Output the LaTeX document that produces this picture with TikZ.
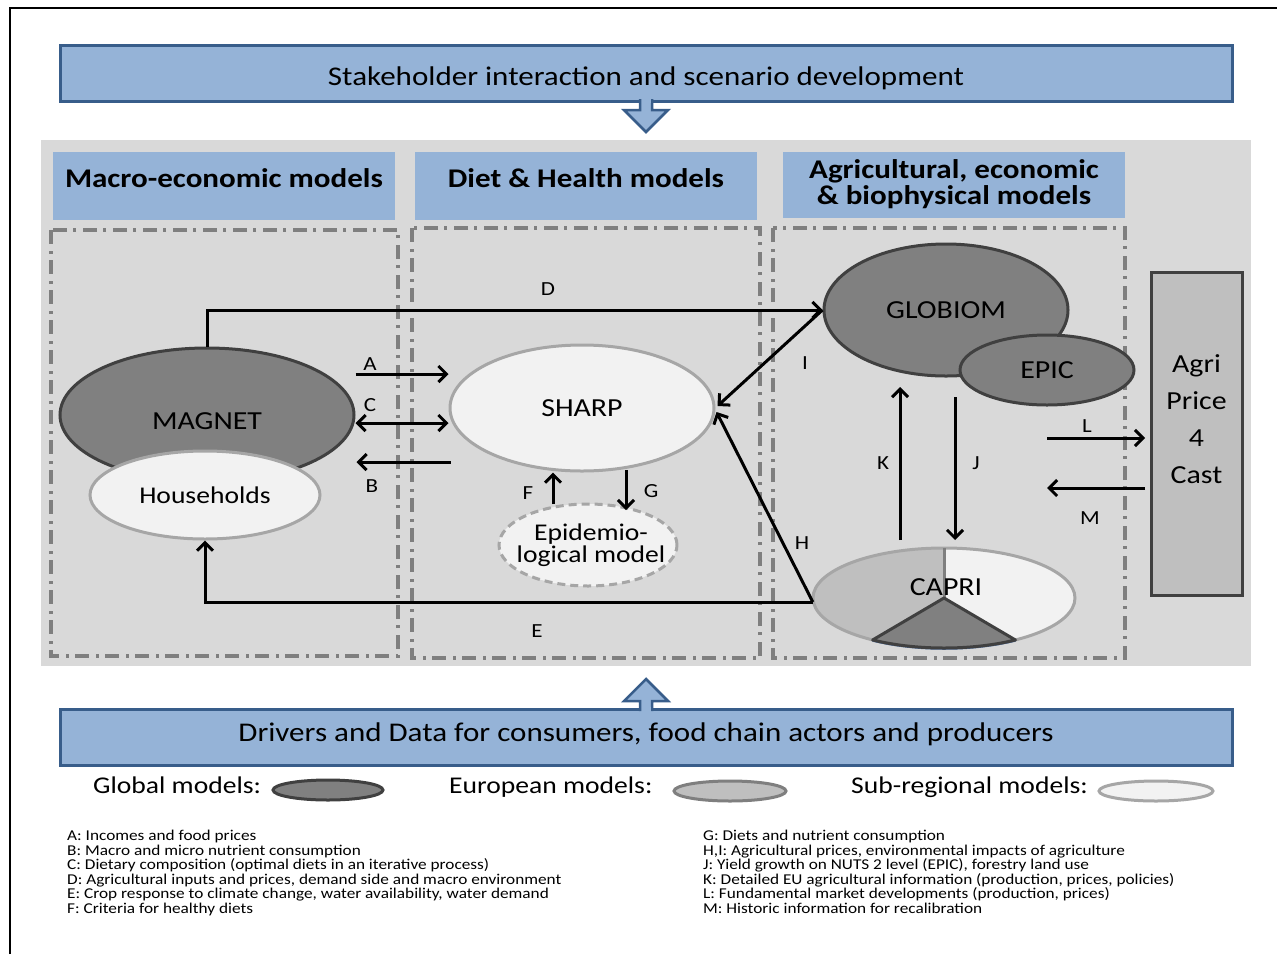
\documentclass[tikz,border=0pt]{standalone}
\usepackage{fontspec}
\setmainfont[FakeStretch=1.15]{Carlito}
\usetikzlibrary{shapes.geometric,arrows.meta,calc}
\definecolor{bluefill}{HTML}{95B3D7}
\definecolor{blueedge}{HTML}{385D8A}
\definecolor{panel}{HTML}{D9D9D9}
\definecolor{dgray}{HTML}{808080}
\definecolor{ddgray}{HTML}{404040}
\definecolor{mgray}{HTML}{BFBFBF}
\definecolor{lgray}{HTML}{F2F2F2}
\definecolor{egray}{HTML}{A6A6A6}
\definecolor{dashgray}{HTML}{7F7F7F}
\definecolor{pieblue}{HTML}{4F6FA0}
\begin{document}
\begin{tikzpicture}[x=1pt,y=-1pt,
  bluebar/.style={draw=blueedge, fill=bluefill, line width=3pt, inner sep=0pt},
  bartext/.style={font=\fontsize{27}{32}\selectfont, anchor=base, inner sep=0pt},
  hdrbox/.style={fill=bluefill, inner sep=0pt},
  hdrtext/.style={font=\fontsize{27}{26}\selectfont\bfseries, anchor=base, inner sep=0pt},
  globalell/.style={ellipse, draw=ddgray, fill=dgray, line width=3pt, inner sep=0pt},
  euroell/.style={ellipse, draw=dashgray, fill=mgray, line width=3pt, inner sep=0pt},
  subell/.style={ellipse, draw=egray, fill=lgray, line width=3pt, inner sep=0pt},
  modeltext/.style={font=\fontsize{26}{30}\selectfont},
  arr/.style={line width=3pt, -{Straight Barb[length=8pt,width=16pt]}},
  darr/.style={line width=3pt, {Straight Barb[length=8pt,width=16pt]}-{Straight Barb[length=8pt,width=16pt]}},
  lbl/.style={font=\fontsize{20}{24}\selectfont, inner sep=0pt},
  zone/.style={draw=dashgray, line width=3.2pt, dash pattern=on 14pt off 7pt on 3pt off 6pt},
  bigarrow/.style={draw=blueedge, fill=bluefill, line width=2.5pt, line join=miter},
  legtext/.style={font=\fontsize{24}{28}\selectfont, anchor=base west, inner sep=0pt},
  notes/.style={font=\fontsize{15}{14.5}\selectfont, anchor=north west, align=left, inner sep=0pt}
]
\useasboundingbox (0,0) rectangle (1277,954);
\fill[white] (0,0) rectangle (1277,954);
% outer frame
\draw[line width=1.5pt] (10,954) -- (10,8) -- (1277,8);

% top bar and arrow
\node[bluebar, minimum width=1172, minimum height=56] (stake) at (646,73) {};
\node[bartext] (staketext) at (646,85) {Stakeholder interaction and scenario development};
\draw[bigarrow] (640,99) -- (640,110) -- (624,110) -- (646,132) -- (668,110) -- (652,110) -- (652,99);
\fill[bluefill] (641.5,97) rectangle (650.5,103);

% grey panel
\fill[panel] (41,140) rectangle (1251,666);

% headers
\node[hdrbox, minimum width=342, minimum height=68] (hmacro) at (224,186) {};
\node[hdrtext] (tmacro) at (224,187) {Macro-economic models};
\node[hdrbox, minimum width=342, minimum height=68] (hdiet) at (586,186) {};
\node[hdrtext] (tdiet) at (586,187) {Diet \& Health models};
\node[hdrbox, minimum width=342, minimum height=66] (hagri) at (954,185) {};
\node[hdrtext] (tagri1) at (954,178) {Agricultural, economic};
\node[hdrtext] (tagri2) at (954,204) {\& biophysical models};

% zones
\draw[zone] (51,230) rectangle (398,656);
\draw[zone] (412,228) rectangle (760,658);
\draw[zone] (773,228) rectangle (1125,658);

% Agri Price 4 Cast
\node[draw=ddgray, fill=mgray, line width=3pt, minimum width=91, minimum height=323, inner sep=0pt] (agri) at (1196.5,433.5) {};
\node[font=\fontsize{26}{37}\selectfont, align=center, inner sep=0pt] (agritext) at (1196.5,419) {Agri\\Price\\4\\Cast};

% models
\node[globalell, minimum width=294, minimum height=134] (magnet) at (207,415) {};
\node[modeltext, inner sep=0pt] (magnettext) at (207,421) {MAGNET};
\node[subell, minimum width=230, minimum height=88, font=\fontsize{24}{28}\selectfont] (households) at (205,495) {Households};
\node[subell, minimum width=264, minimum height=126, modeltext] (sharp) at (582,408) {SHARP};
\node[ellipse, draw=egray, fill=lgray, line width=3pt, dash pattern=on 8pt off 5pt, inner sep=0pt, minimum width=178, minimum height=82] (epi) at (588,545) {};
\node[align=center, inner sep=0pt, font=\fontsize{24}{22}\selectfont] (epitext) at (591,545) {Epidemio-\\logical model};
\node[globalell, minimum width=244, minimum height=132, modeltext] (globiom) at (946,310) {GLOBIOM};
\node[globalell, minimum width=174, minimum height=70, modeltext] (epic) at (1047,370) {EPIC};

% CAPRI pie
\node[ellipse, minimum width=262, minimum height=100, inner sep=0pt] (capri) at (944,598) {};
\fill[mgray] (944,598) -- (944,548) arc[start angle=270, end angle=123, x radius=131, y radius=50] -- cycle;
\fill[lgray] (944,598) -- (944,548) arc[start angle=-90, end angle=57, x radius=131, y radius=50] -- cycle;
\draw[egray, line width=3pt] (944,598) ellipse[x radius=131, y radius=50];
\draw[dashgray, line width=3pt] (944,548) -- (944,598);
\draw[pieblue, line width=3.5pt] ($(944,598)+(57:131 and 50)$) arc[start angle=57, end angle=123, x radius=131, y radius=50];
\filldraw[fill=dgray, draw=ddgray, line width=3pt, line join=round] (944,598) -- +(57:131 and 50) arc[start angle=57, end angle=123, x radius=131, y radius=50] -- cycle;
\node[modeltext, inner sep=0pt] (capritext) at (946,587) {CAPRI};

% connectors
\draw[arr] (magnet.north) |- (globiom.west);
\node[lbl] (lD) at (548,289) {D};
\draw[arr] (magnet.east |- 0,374) -- (sharp.west |- 0,374);
\node[lbl] (lA) at (370,364) {A};
\draw[darr] (magnet.east |- 0,423) -- (sharp.west |- 0,423);
\node[lbl] (lC) at (370,405) {C};
\draw[arr] ([xshift=2pt]sharp.west |- 0,462) -- ([xshift=1pt]magnet.east |- 0,462);
\node[lbl] (lB) at (372,486) {B};
\draw[arr] (capri.west |- 0,602) -| (households.south);
\node[lbl] (lE) at (537,631) {E};
\draw[arr] (globiom.west) -- ([xshift=2pt,yshift=2pt]sharp.east);
\node[lbl] (lI) at (805,363) {I};
\draw[arr] (capri.west |- 0,602) -- ([xshift=1pt,yshift=-4pt]sharp.east);
\node[lbl] (lH) at (802,543) {H};
\coordinate (fS) at (553,504);
\draw[arr] (fS) -- (sharp.south -| fS);
\node[lbl] (lF) at (528,493) {F};
\coordinate (gS) at (626,470);
\coordinate (gE) at (626,510);
\draw[arr] (gS) -- (gE);
\node[lbl] (lG) at (651,491) {G};
\coordinate (kS) at (900,540);
\coordinate (kE) at (900,387);
\draw[arr] (kS) -- (kE);
\node[lbl] (lK) at (883,463) {K};
\coordinate (jS) at (955,397);
\coordinate (jE) at (955,540);
\draw[arr] (jS) -- (jE);
\node[lbl] (lJ) at (976,463) {J};
\coordinate (lS) at (1047,438);
\coordinate (lE) at (1145,438);
\draw[arr] (lS) -- (lE);
\node[lbl] (lL) at (1087,426) {L};
\coordinate (mE) at (1047,488);
\coordinate (mS) at (1145,488);
\draw[arr] (mS) -- (mE);
\node[lbl] (lM) at (1090,518) {M};

% bottom bar and arrow
\node[bluebar, minimum width=1172, minimum height=56] (drivers) at (646,737) {};
\node[bartext] (driverstext) at (646,741) {Drivers and Data for consumers, food chain actors and producers};
\draw[bigarrow] (640,711) -- (640,701) -- (624,701) -- (646,679) -- (668,701) -- (652,701) -- (652,711);
\fill[bluefill] (641.5,707) rectangle (650.5,713);

% legend
\node[legtext] (tglob) at (93,793) {Global models:};
\node[globalell, minimum width=110, minimum height=20] (leg1) at (328,790) {};
\node[legtext] (teuro) at (449,793) {European models:};
\node[euroell, minimum width=112, minimum height=20] (leg2) at (730,791) {};
\node[legtext] (tsub) at (851,793) {Sub-regional models:};
\node[subell, minimum width=114, minimum height=20] (leg3) at (1156,791) {};

% notes
\node[notes] (notesL) at (67,830) {A: Incomes and food prices\\
B: Macro and micro nutrient consumption\\
C: Dietary composition (optimal diets in an iterative process)\\
D: Agricultural inputs and prices, demand side and macro environment\\
E: Crop response to climate change, water availability, water demand\\
F: Criteria for healthy diets};
\node[notes] (notesR) at (703,830) {G: Diets and nutrient consumption\\
H,I: Agricultural prices, environmental impacts of agriculture\\
J: Yield growth on NUTS 2 level (EPIC), forestry land use\\
K: Detailed EU agricultural information (production, prices, policies)\\
L: Fundamental market developments (production, prices)\\
M: Historic information for recalibration};
\end{tikzpicture}
\end{document}
